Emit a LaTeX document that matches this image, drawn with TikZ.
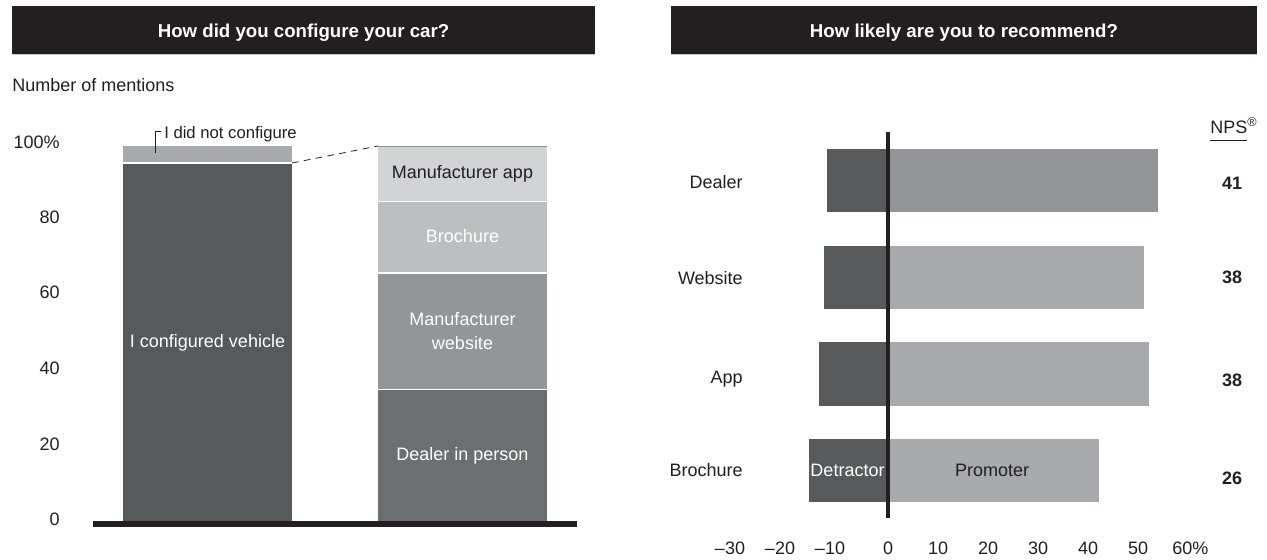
\documentclass[tikz,border=0pt]{standalone}
\usepackage{fontspec}
\setmainfont{Liberation Sans}
\definecolor{ink}{HTML}{231F20}
\definecolor{gA}{HTML}{58595B}
\definecolor{gB}{HTML}{6D6E71}
\definecolor{gC}{HTML}{939598}
\definecolor{gD}{HTML}{A7A9AC}
\definecolor{gE}{HTML}{BCBEC0}
\definecolor{gF}{HTML}{D1D3D4}
\begin{document}
\begin{tikzpicture}[x=0.75pt,y=-0.75pt,
  txt/.style={font=\fontsize{13.5}{16}\selectfont, text=ink, inner sep=0pt, text height=9.7pt, text depth=0pt},
  wtxt/.style={txt, text=white},
  small/.style={font=\fontsize{12.5}{15}\selectfont, text=ink, inner sep=0pt, text height=9pt, text depth=0pt},
  hdrtxt/.style={font=\fontsize{14}{17}\bfseries\selectfont, text=white, inner sep=0pt, text height=10pt, text depth=0pt},
  npsnum/.style={font=\fontsize{13.5}{16}\bfseries\selectfont, text=ink, inner sep=0pt, text height=9.7pt, text depth=0pt},
  ylab/.style={txt, anchor=east},
  sep/.style={white, line width=1.1pt},
  zeroline/.style={ink, line width=3pt}]
\useasboundingbox (0,0) rectangle (1267,560);
\fill[white] (0,0) rectangle (1267,560);

% headers
\fill[ink] (12,6) rectangle (595,54);
\draw[gray!40, line width=0.6pt] (12,54.3) -- (595,54.3);
\node[hdrtxt] (h1) at (303.5,31) {How did you configure your car?};
\fill[ink] (671,6) rectangle (1257,54);
\draw[gray!40, line width=0.6pt] (671,54.3) -- (1257,54.3);
\node[hdrtxt] (h2) at (964,31) {How likely are you to recommend?};

% left chart
\node[txt, anchor=west] (nm) at (12,85) {Number of mentions};
\node[ylab] (y100) at (60,142) {100\%};
\node[ylab] (y80) at (60,217) {80};
\node[ylab] (y60) at (60,292) {60};
\node[ylab] (y40) at (60,368) {40};
\node[ylab] (y20) at (60,444) {20};
\node[ylab] (y0) at (60,519) {0};

% bar 1
\fill[gD] (123,146) rectangle (292,163);
\fill[gA] (123,163) rectangle (292,521);
\draw[sep] (123,163) -- (292,163);
\coordinate (b1tr) at (292,163);
\node[wtxt] (conf) at (207.5,341) {I configured vehicle};
\draw[ink, line width=0.7pt] (155,153) -- (155,131) -- (161,131);
\node[small, anchor=west] (notc) at (164,132) {I did not configure};

% bar 2
\fill[gF] (378,146) rectangle (547,201.5);
\fill[gE] (378,201.5) rectangle (547,273);
\fill[gC] (378,273) rectangle (547,389.5);
\fill[gB] (378,389.5) rectangle (547,521);
\draw[gC, line width=0.75pt] (378,146.3) -- (547,146.3);
\draw[sep] (378,201.5) -- (547,201.5);
\draw[sep] (378,273) -- (547,273);
\draw[sep] (378,389.5) -- (547,389.5);
\coordinate (b2tl) at (378,146);
\node[txt] (app) at (462.5,172) {Manufacturer app};
\node[wtxt] (bro) at (462.5,236) {Brochure};
\node[wtxt] (web1) at (462.5,319) {Manufacturer};
\node[wtxt] (web2) at (462.5,343) {website};
\node[wtxt] (dip) at (462.5,454) {Dealer in person};
\draw[ink, line width=0.6pt, dash pattern=on 5pt off 4pt] (b1tr) -- (b2tl);

% baseline
\fill[ink] (93,521) rectangle (577,527);

% right chart bars
\fill[gA] (827,149) rectangle (887.7,212);
\fill[gC] (887.7,149) rectangle (1158,212);
\fill[gA] (823.7,245.7) rectangle (887.7,309);
\fill[gD] (887.7,245.7) rectangle (1144,309);
\fill[gA] (819,342) rectangle (887.7,405.7);
\fill[gD] (887.7,342) rectangle (1149,405.7);
\fill[gA] (809,439) rectangle (887.7,502);
\fill[gD] (887.7,439) rectangle (1099,502);
\draw[zeroline] (887.7,132) -- (887.7,518);
\node[wtxt] (det) at (847.5,470) {Detractor};
\node[txt] (pro) at (992,470) {Promoter};

% category labels
\node[txt, anchor=east] (cd) at (743,182) {Dealer};
\node[txt, anchor=east] (cw) at (743,278) {Website};
\node[txt, anchor=east] (ca) at (743,377) {App};
\node[txt, anchor=east] (cb) at (743,470) {Brochure};

% NPS
\node[txt, anchor=west] (nps) at (1210,127) {NPS\textsuperscript{\textregistered}};
\draw[ink, line width=0.6pt] (1210,140) -- (1247,140);
\node[npsnum] (n1) at (1232,183) {41};
\node[npsnum] (n2) at (1232,277) {38};
\node[npsnum] (n3) at (1232,380) {38};
\node[npsnum] (n4) at (1232,478) {26};

% x axis labels
\node[txt] (xm30) at (730,548) {\textendash30};
\node[txt] (xm20) at (780,548) {\textendash20};
\node[txt] (xm10) at (830,548) {\textendash10};
\node[txt] (x0) at (888,548) {0};
\node[txt] (x10) at (938,548) {10};
\node[txt] (x20) at (988,548) {20};
\node[txt] (x30) at (1038,548) {30};
\node[txt] (x40) at (1088,548) {40};
\node[txt] (x50) at (1138,548) {50};
\node[txt, anchor=west] (x60) at (1172,548) {60\%};
\end{tikzpicture}
\end{document}
